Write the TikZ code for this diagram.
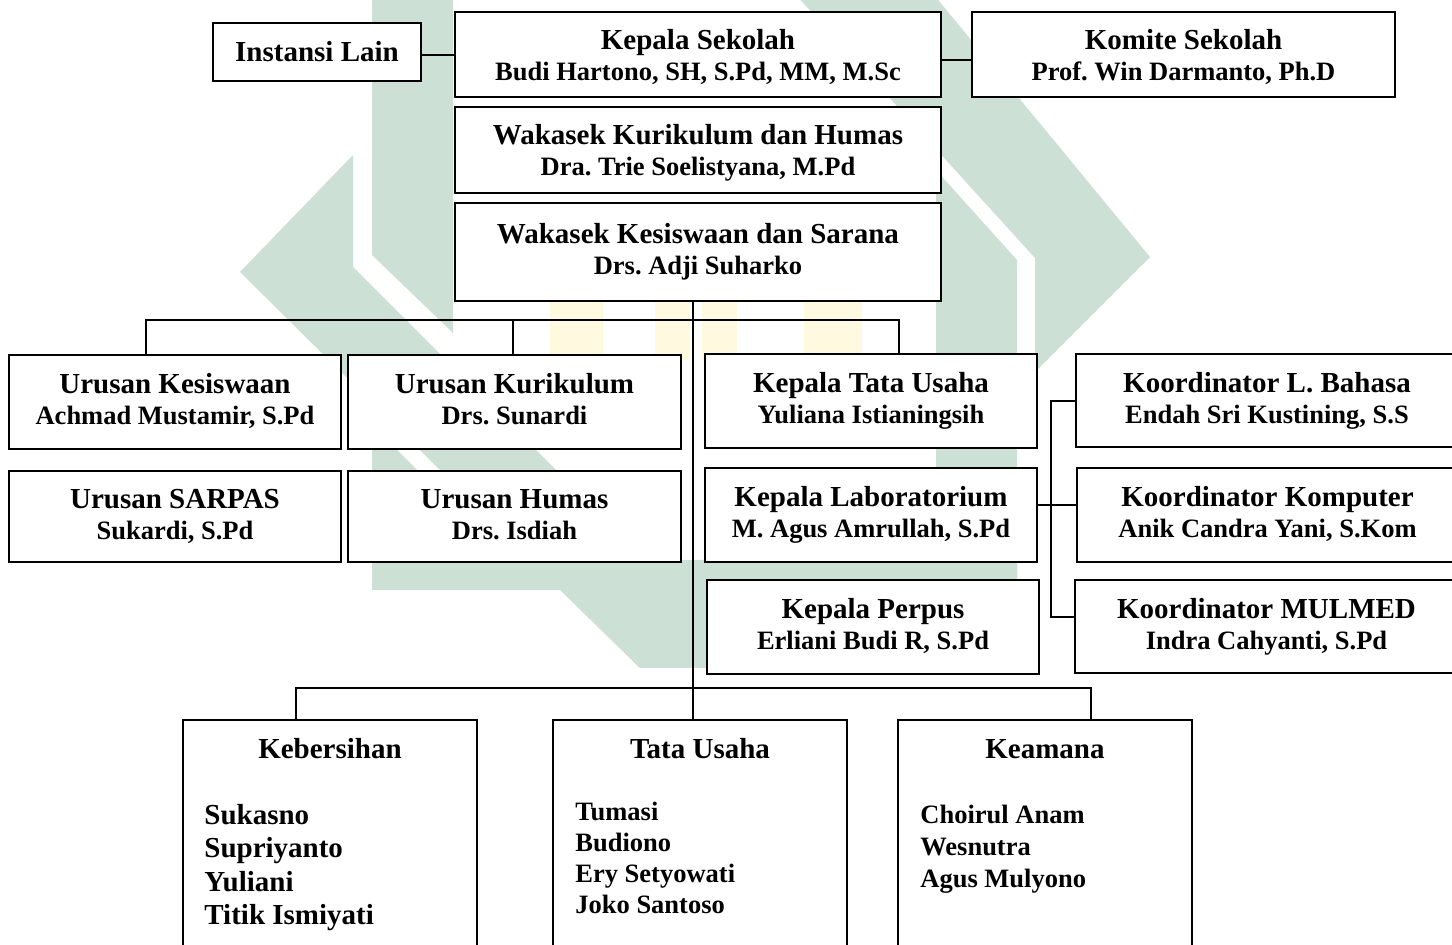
\documentclass[tikz,border=0pt]{standalone}
\usepackage{fontspec}
\setmainfont{Liberation Serif}
\frenchspacing
\definecolor{wmgreen}{RGB}{205,224,214}
\definecolor{wmyellow}{RGB}{255,249,224}
\newcommand{\ttl}[1]{{\fontsize{14.5pt}{15.5pt}\selectfont\vphantom{Khg}#1}}
\newcommand{\ttlx}[1]{{\fontsize{14.5pt}{15.5pt}\selectfont\rule{0pt}{13.2pt}#1}}
\newcommand{\sbt}[1]{{\fontsize{13.25pt}{15.5pt}\selectfont\vphantom{Khg,}#1}}
\tikzset{
  orgbox/.style={draw, line width=1pt, fill=white, inner sep=0pt, outer sep=0pt,
    align=center, font=\bfseries\fontsize{13.25pt}{15.5pt}\selectfont},
  conn/.style={line width=1pt},
  wm/.style={fill=wmgreen, draw=none},
  wmy/.style={fill=wmyellow, draw=none},
  hdr/.style={inner sep=0pt, font=\bfseries\fontsize{14.5pt}{15.5pt}\selectfont, anchor=base},
  bigname/.style={inner sep=0pt, font=\bfseries\fontsize{14.5pt}{15.5pt}\selectfont, anchor=base west},
  smallname/.style={inner sep=0pt, font=\bfseries\fontsize{13.25pt}{15.5pt}\selectfont, anchor=base west},
}
\newcommand{\orgnode}[6]{\node[orgbox, minimum width={(#4-#2)*0.5pt}, minimum height={(#5-#3)*0.5pt}] (#1) at ({(#2+#4)/2},{(#3+#5)/2}) {#6};}
\begin{document}
\begin{tikzpicture}[x=0.5pt,y=-0.5pt]
\useasboundingbox (0,0) rectangle (1452,945);
\clip (0,0) rectangle (1452,945);
\fill[white] (0,0) rectangle (1452,945);
% watermark
\fill[wm] (372,-5) -- (453,-5) -- (453,333) -- (372,255) -- cycle;
\fill[wm] (353,155) -- (240,272) -- (640,668) -- (754,668) -- (353,267) -- cycle;
\fill[wm] (372,425) -- (372,590) -- (575,590) -- (575,560) -- (507,560) -- cycle;
\fill[wm] (936,170) -- (1017,260) -- (1017,590) -- (936,590) -- cycle;
\fill[wm] (1035,372) -- (1150,257) -- (934,-5) -- (796,-5) -- (1035,258) -- cycle;
\fill[wm] (540,560) -- (1017,560) -- (1017,590) -- (806,590) -- (749,668) -- (640,668) -- (560,590) -- (540,570) -- cycle;
\fill[wmy] (550,295) rectangle (603,360);
\fill[wmy] (655,295) rectangle (690,360);
\fill[wmy] (702,295) rectangle (737,360);
\fill[wmy] (804,295) rectangle (862,360);
% boxes
\orgnode{ins}{213}{23}{421}{81}{{\fontsize{14.5pt}{15.5pt}\selectfont Instansi Lain}}
\orgnode{ks}{455}{12}{941}{97}{\ttlx{Kepala Sekolah}\\\sbt{Budi Hartono, SH, S.Pd, MM, M.Sc}}
\orgnode{kom}{972}{12}{1395}{97}{\ttlx{Komite Sekolah}\\\sbt{Prof. Win Darmanto, Ph.D}}
\orgnode{wkh}{455}{107}{941}{193}{\ttlx{Wakasek Kurikulum dan Humas}\\\sbt{Dra. Trie Soelistyana, M.Pd}}
\orgnode{wks}{455}{203}{941}{301}{\ttl{Wakasek Kesiswaan dan Sarana}\\\sbt{Drs. Adji Suharko}}
\orgnode{uks}{9}{355}{341}{449}{\ttl{Urusan Kesiswaan}\\\sbt{Achmad Mustamir, S.Pd}}
\orgnode{ukr}{348}{355}{681}{449}{\ttl{Urusan Kurikulum}\\\sbt{Drs. Sunardi}}
\orgnode{ktu}{705}{354}{1037}{448}{\ttl{Kepala Tata Usaha}\\\sbt{Yuliana Istianingsih}}
\orgnode{kbh}{1076}{354}{1458}{447}{\ttl{Koordinator L. Bahasa}\\\sbt{Endah Sri Kustining, S.S}}
\orgnode{usp}{9}{471}{341}{562}{\ttl{Urusan SARPAS}\\\sbt{Sukardi, S.Pd}}
\orgnode{uhm}{348}{471}{681}{562}{\ttl{Urusan Humas}\\\sbt{Drs. Isdiah}}
\orgnode{klb}{705}{468}{1037}{562}{\ttl{Kepala Laboratorium}\\\sbt{M. Agus Amrullah, S.Pd}}
\orgnode{kkm}{1077}{468}{1458}{562}{\ttl{Koordinator Komputer}\\\sbt{Anik Candra Yani, S.Kom}}
\orgnode{kpp}{707}{580}{1039}{674}{\ttl{Kepala Perpus}\\\sbt{Erliani Budi R, S.Pd}}
\orgnode{kml}{1075}{580}{1458}{673}{\ttl{Koordinator MULMED}\\\sbt{Indra Cahyanti, S.Pd}}
\orgnode{keb}{183}{720}{477}{960}{}
\orgnode{tus}{553}{720}{847}{960}{}
\orgnode{kea}{898}{720}{1192}{960}{}
% lower box texts
\node[hdr] (kebh) at (330,759) {Kebersihan};
\node[bigname] (keb1) at (204,825) {Sukasno};
\node[bigname] (keb2) at (204,858) {Supriyanto};
\node[bigname] (keb3) at (204,892) {Yuliani};
\node[bigname] (keb4) at (204,925) {Titik Ismiyati};
\node[hdr] (tush) at (700,759) {Tata Usaha};
\node[smallname] (tus1) at (575,821) {Tumasi};
\node[smallname] (tus2) at (575,852) {Budiono};
\node[smallname] (tus3) at (575,883) {Ery Setyowati};
\node[smallname] (tus4) at (575,914) {Joko Santoso};
\node[hdr] (keah) at (1045,759) {Keamana};
\node[smallname] (kea1) at (920,824) {Choirul Anam};
\node[smallname] (kea2) at (920,856) {Wesnutra};
\node[smallname] (kea3) at (920,888) {Agus Mulyono};
% connectors
\coordinate (il) at (438,55);
\coordinate (kl) at (956,60);
\draw[conn] (ins.east |- il) -- (ks.west |- il);
\draw[conn] (ks.east |- kl) -- (kom.west |- kl);
\coordinate (cx) at (693,320);
\coordinate (hL) at (146,320);
\coordinate (hM) at (513,320);
\coordinate (hR) at (899,320);
\draw[conn] (wks.south -| cx) -- (tus.north -| cx);
\draw[conn] (uks.north -| hL) -- (hL) -- (hR) -- (ktu.north -| hR);
\draw[conn] (hM) -- (ukr.north -| hM);
\coordinate (lL) at (296,688);
\coordinate (lR) at (1091,688);
\draw[conn] (keb.north -| lL) -- (lL) -- (lR) -- (kea.north -| lR);
\coordinate (b1) at (1051,401);
\coordinate (b2) at (1051,505);
\coordinate (b3) at (1051,617);
\draw[conn] (kbh.west |- b1) -- (b1) -- (b3) -- (kml.west |- b3);
\draw[conn] (klb.east |- b2) -- (kkm.west |- b2);
\end{tikzpicture}
\end{document}
